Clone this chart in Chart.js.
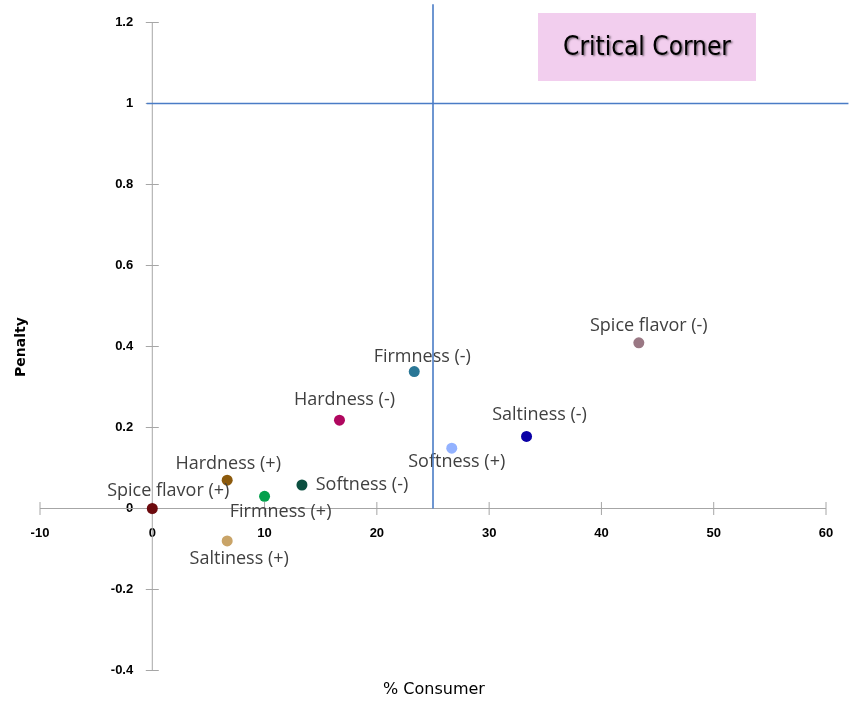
<!DOCTYPE html>
<html>
<head>
<meta charset="utf-8">
<title>Penalty analysis</title>
<script src="https://cdn.jsdelivr.net/npm/chart.js@4.4.1/dist/chart.umd.min.js"></script>
<style>
  html, body { margin: 0; padding: 0; background: #ffffff; }
  #wrap { position: relative; width: 849px; height: 702px; }
  canvas { display: block; }
</style>
</head>
<body>
<div id="wrap"><canvas id="chart" width="849" height="702"></canvas></div>
<script>
// Attributes with % of consumers reporting them and the mean penalty
const attributes = [
  'Spice flavor (+)', 'Hardness (+)', 'Firmness (+)', 'Softness (-)', 'Saltiness (+)',
  'Hardness (-)', 'Firmness (-)', 'Softness (+)', 'Saltiness (-)', 'Spice flavor (-)'
];
const consumerPct = [0, 6.67, 10, 13.33, 6.67, 16.67, 23.33, 26.67, 33.33, 43.33];
const penalty = [0, 0.07, 0.03, 0.058, -0.08, 0.218, 0.338, 0.149, 0.178, 0.409];

// Axis ranges and tick spacing
const xRange = [-10, 60];
const xStep = 10;
const yRange = [-0.4, 1.2];
const yStep = 0.2;

// Critical corner thresholds and how far their guide lines run
const consumerThreshold = 25;
const penaltyThreshold = 1;
const penaltyLineSpan = [-0.5, 62];
const consumerLineSpan = [0, 1.245];

// Styling
const pointColors = [
  '#6c0a0e', '#8c5a0c', '#03a04c', '#0b4f40', '#c9a468',
  '#b0075f', '#2a7796', '#93b2ff', '#0a00a6', '#9a7884'
];
// label anchor relative to its point: [dx of text centre, dy of baseline]
const labelOffsets = [
  [16, -13], [1, -11], [16, 21], [60, 5], [12, 23],
  [5, -15], [8, -10], [5, 19], [13, -16], [10, -12]
];
const guideStyle = { color: '#4a7cc6', width: 1.6 };
// the tick labels hang a little off the zero lines: values (in the other axis' units)
const xLabelAnchor = -0.042;   // y value the x tick labels start at
const yLabelAnchor = -1.7;     // x value the y tick labels end at
const tickFont = { family: '"Liberation Sans", Arial, sans-serif', size: 13, weight: 'bold' };

const axesPlugin = {
  id: 'crossAxes',
  beforeDatasetsDraw(chart) {
    const { ctx, scales: { x, y } } = chart;
    const x0 = x.getPixelForValue(0);
    const y0 = y.getPixelForValue(0);
    ctx.save();
    ctx.strokeStyle = '#a6a6a6';
    ctx.lineWidth = 1;
    ctx.beginPath();
    ctx.moveTo(x.left, y0); ctx.lineTo(x.right, y0);
    ctx.moveTo(x0, y.top); ctx.lineTo(x0, y.bottom);
    x.ticks.forEach(t => {
      const px = x.getPixelForValue(t.value);
      ctx.moveTo(px, y0 - 6.5); ctx.lineTo(px, y0 + 6.5);
    });
    y.ticks.forEach(t => {
      const py = y.getPixelForValue(t.value);
      ctx.moveTo(x0 - 6.5, py); ctx.lineTo(x0 + 6.5, py);
    });
    ctx.stroke();

    // axis titles
    ctx.fillStyle = '#000000';
    ctx.textAlign = 'center';
    ctx.textBaseline = 'middle';
    ctx.save();
    ctx.translate(21, 347);
    ctx.rotate(-Math.PI / 2);
    ctx.font = 'bold 14px "DejaVu Sans", sans-serif';
    ctx.fillText('Penalty', 0, 0);
    ctx.restore();
    ctx.font = '16px "DejaVu Sans", sans-serif';
    ctx.fillText('% Consumer', 434, 690);

    // critical corner tag
    ctx.fillStyle = '#f2ceee';
    ctx.fillRect(538, 13, 218, 68);
    ctx.shadowColor = 'rgba(0,0,0,0.5)';
    ctx.shadowOffsetX = 1.5;
    ctx.shadowOffsetY = 1.5;
    ctx.shadowBlur = 2;
    ctx.fillStyle = '#000000';
    ctx.font = '26px "DejaVu Sans Condensed", "DejaVu Sans", sans-serif';
    ctx.fillText('Critical Corner', 647, 48);
    ctx.restore();
  },
  afterDatasetDraw(chart, args) {
    if (args.index !== 2) return;
    const { ctx } = chart;
    const meta = chart.getDatasetMeta(2);
    ctx.save();
    ctx.fillStyle = '#404040';
    ctx.font = '18px "Open Sans", sans-serif';
    ctx.textAlign = 'center';
    ctx.textBaseline = 'alphabetic';
    meta.data.forEach((pt, i) => {
      const [dx, dy] = labelOffsets[i];
      ctx.fillText(attributes[i], pt.x + dx, pt.y + dy);
    });
    ctx.restore();
  }
};

new Chart(document.getElementById('chart'), {
  type: 'scatter',
  data: {
    datasets: [
      {
        type: 'line',
        label: 'Penalty threshold',
        data: penaltyLineSpan.map(v => ({ x: v, y: penaltyThreshold })),
        borderColor: guideStyle.color,
        borderWidth: guideStyle.width,
        pointRadius: 0,
        clip: false,
        order: 1
      },
      {
        type: 'line',
        label: 'Consumer threshold',
        data: consumerLineSpan.map(v => ({ x: consumerThreshold, y: v })),
        borderColor: guideStyle.color,
        borderWidth: guideStyle.width,
        pointRadius: 0,
        clip: false,
        order: 1
      },
      {
        label: 'Attributes',
        data: consumerPct.map((v, i) => ({ x: v, y: penalty[i] })),
        backgroundColor: pointColors,
        borderWidth: 0,
        pointRadius: 5.5,
        pointHoverRadius: 5.5,
        clip: false,
        order: 2
      }
    ]
  },
  options: {
    responsive: false,
    animation: false,
    events: [],
    layout: { padding: { left: 40, right: 23, top: 22.5, bottom: 31.5 } },
    plugins: { legend: { display: false }, tooltip: { enabled: false } },
    scales: {
      x: {
        type: 'linear',
        position: { y: xLabelAnchor },
        min: xRange[0], max: xRange[1],
        grid: { display: false, drawTicks: false },
        border: { display: false },
        ticks: {
          stepSize: xStep,
          padding: 0,
          color: '#000000',
          font: tickFont,
          maxRotation: 0
        },
        afterFit(scale) { scale.height = 0; }
      },
      y: {
        type: 'linear',
        position: { x: yLabelAnchor },
        min: yRange[0], max: yRange[1],
        grid: { display: false, drawTicks: false },
        border: { display: false },
        ticks: {
          stepSize: yStep,
          padding: 0,
          color: '#000000',
          font: tickFont,
          callback: v => String(Number(v.toFixed(1)))
        },
        afterFit(scale) { scale.width = 0; }
      }
    }
  },
  plugins: [axesPlugin]
});
</script>
</body>
</html>
